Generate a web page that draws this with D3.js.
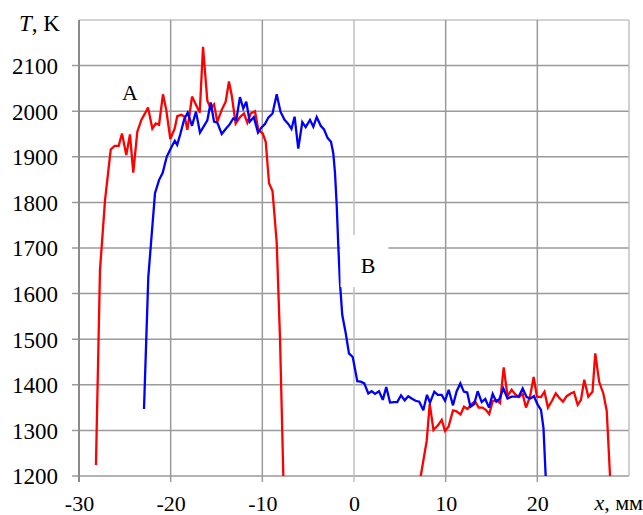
<!DOCTYPE html>
<html>
<head>
<meta charset="utf-8">
<script src="https://cdn.jsdelivr.net/npm/d3@7/dist/d3.min.js"></script>
<style>
  html, body { margin: 0; padding: 0; background: #fff; }
  svg { display: block; }
  text { font-family: "Liberation Serif", "Times New Roman", serif; fill: #000; }
</style>
</head>
<body>
<svg id="chart" width="643" height="515"></svg>
<script>
// Temperature profiles T(x) for two runs (red and blue), x in mm, T in K
const xTickValues = [-30, -20, -10, 0, 10, 20];
const tTickValues = [1200, 1300, 1400, 1500, 1600, 1700, 1800, 1900, 2000, 2100];

// Red run, left hot zone
const redLeftX = [-28.15, -27.71, -27.16, -26.54, -26.11, -25.67, -25.31, -24.84, -24.44, -24.08,
  -23.64, -23.20, -22.83, -22.47, -22.00, -21.63, -21.27, -20.84, -20.48, -20.04,
  -19.56, -19.28, -18.84, -18.47, -18.18, -17.67, -17.31, -16.83, -16.47, -16.00,
  -15.63, -15.27, -14.91, -14.43, -14.00, -13.64, -13.34, -12.91, -12.44, -12.00,
  -11.64, -11.27, -10.80, -10.44, -9.96, -9.63, -9.27, -8.89, -8.43, -8.07, -7.71];
const redLeftT = [1224, 1652, 1805, 1916, 1924, 1924, 1951, 1904, 1949, 1865,
  1955, 1981, 1994, 2008, 1962, 1973, 1970, 2037, 2003, 1939,
  1962, 1989, 1992, 1988, 1959, 2032, 2017, 1997, 2141, 2023,
  2006, 2015, 1977, 2003, 2021, 2065, 2035, 1973, 1987, 1995,
  1975, 1995, 2000, 1959, 1951, 1933, 1842, 1825, 1711, 1500, 1200];

// Red run, right zone
const redRightX = [7.28, 7.93, 8.26, 8.67, 9.16, 9.57, 9.93, 10.31, 10.80, 11.18,
  11.62, 12.00, 12.38, 12.80, 13.20, 13.60, 14.02, 14.37, 14.75, 15.13,
  15.57, 15.93, 16.33, 16.75, 17.20, 17.60, 18.00, 18.40, 18.76, 19.20,
  19.60, 19.96, 20.40, 20.78, 21.16, 21.60, 22.01, 22.36, 22.80, 23.20,
  23.64, 24.00, 24.40, 24.76, 25.12, 25.56, 26.02, 26.32, 26.75, 27.20, 27.57, 27.93];
const redRightT = [1200, 1277, 1358, 1301, 1311, 1323, 1299, 1308, 1344, 1342,
  1335, 1352, 1347, 1357, 1364, 1350, 1350, 1345, 1336, 1364,
  1366, 1360, 1438, 1375, 1389, 1379, 1373, 1380, 1350, 1374,
  1417, 1374, 1373, 1385, 1350, 1365, 1381, 1372, 1363, 1375,
  1381, 1384, 1356, 1367, 1411, 1374, 1385, 1469, 1406, 1381, 1343, 1200];

// Blue run
const blueX = [-22.91, -22.44, -21.71, -21.27, -20.87, -20.43, -20.02, -19.55, -19.29, -18.93,
  -18.51, -18.14, -17.67, -17.24, -16.80, -16.36, -16.00, -15.63, -15.27, -14.91,
  -14.43, -14.00, -13.57, -13.17, -12.84, -12.44, -12.08, -11.75, -11.38, -10.93,
  -10.47, -10.07, -9.71, -9.35, -8.89, -8.43, -8.02, -7.58, -7.17, -6.82,
  -6.48, -6.08, -5.64, -5.27, -4.80, -4.44, -4.07, -3.63, -3.27, -2.87,
  -2.51, -2.26, -2.07, -1.88, -1.71, -1.53, -1.28, -0.91, -0.55, -0.14,
  0.36, 0.73, 1.12, 1.56, 1.93, 2.29, 2.73, 3.14, 3.52, 3.93,
  4.36, 4.72, 5.13, 5.53, 5.92, 6.29, 6.71, 7.12, 7.56, 7.96,
  8.29, 8.76, 9.13, 9.57, 9.93, 10.33, 10.80, 11.20, 11.60, 11.98,
  12.35, 12.70, 13.11, 13.49, 13.93, 14.32, 14.73, 15.13, 15.52, 15.89,
  16.29, 16.75, 17.20, 17.56, 17.97, 18.40, 18.84, 19.23, 19.64, 20.02,
  20.40, 20.67, 20.91];
const blueT = [1347, 1636, 1820, 1849, 1865, 1900, 1917, 1935, 1926, 1951,
  1983, 1997, 1968, 1999, 1953, 1968, 1980, 2019, 1977, 1975,
  1950, 1961, 1971, 1984, 1981, 2031, 2006, 2021, 1977, 1987,
  1953, 1965, 1972, 1986, 1995, 2037, 1999, 1981, 1972, 1961,
  1988, 1918, 1976, 1965, 1981, 1966, 1987, 1968, 1960, 1941,
  1933, 1908, 1864, 1791, 1703, 1623, 1553, 1514, 1469, 1461,
  1408, 1407, 1403, 1381, 1386, 1380, 1386, 1367, 1395, 1361,
  1362, 1362, 1377, 1366, 1375, 1370, 1365, 1363, 1344, 1378,
  1361, 1385, 1378, 1378, 1365, 1389, 1355, 1386, 1403, 1385,
  1383, 1352, 1358, 1386, 1362, 1369, 1350, 1380, 1363, 1370,
  1392, 1370, 1374, 1374, 1374, 1392, 1373, 1370, 1375, 1357,
  1345, 1305, 1200];

const plot = { left: 79, right: 629, top: 20, bottom: 476 };

const svg = d3.select("#chart");

const x = d3.scaleLinear().domain([-30, 30]).range([plot.left, plot.right]);
const y = d3.scaleLinear().domain([1200, 2200]).range([plot.bottom, plot.top]);

// Grid
const grid = svg.append("g");
grid.selectAll("line.h")
  .data(tTickValues.concat([2200]))
  .join("line")
  .attr("x1", d => d === 2200 ? plot.left : plot.left - 7)
  .attr("x2", plot.right)
  .attr("y1", d => y(d)).attr("y2", d => y(d))
  .attr("stroke", d => d === 2200 ? "#c4c4c4" : "#9a9a9a")
  .attr("stroke-width", 1.5);

grid.selectAll("line.v")
  .data(xTickValues.concat([30]))
  .join("line")
  .attr("x1", d => x(d)).attr("x2", d => x(d))
  .attr("y1", plot.top)
  .attr("y2", d => d === 30 ? plot.bottom : plot.bottom + 6)
  .attr("stroke", d => (d === 0 || d === 30) ? "#c0c0c0" : (d === -30 ? "#8a8a8a" : "#9a9a9a"))
  .attr("stroke-width", d => d === -30 ? 2 : 1.5);

// Axis tick labels
const yAxis = d3.axisLeft(y).tickValues(tTickValues).tickSize(0).tickPadding(0)
  .tickFormat(d3.format("d"));
const gy = svg.append("g").attr("transform", `translate(${plot.left - 21},0)`).call(yAxis);
gy.select(".domain").remove();
gy.selectAll("text").attr("font-size", 23).attr("font-family", "Liberation Serif").attr("dy", "0.34em");

const xAxis = d3.axisBottom(x).tickValues(xTickValues).tickSize(0).tickPadding(0)
  .tickFormat(d => d < 0 ? "-" + Math.abs(d) : String(d));
const gx = svg.append("g").attr("transform", `translate(0,${plot.bottom + 20})`).call(xAxis);
gx.select(".domain").remove();
gx.selectAll("text").attr("font-size", 22).attr("font-family", "Liberation Serif").attr("dy", "0.66em");

// Axis titles
const tTitle = svg.append("text").attr("x", 19).attr("y", 31).attr("font-size", 23);
tTitle.append("tspan").attr("font-style", "italic").text("T");
tTitle.append("tspan").text(", K");

const xTitle = svg.append("text").attr("x", 643).attr("y", 510).attr("font-size", 22)
  .attr("text-anchor", "end");
xTitle.append("tspan").attr("font-style", "italic").text("x");
xTitle.append("tspan").text(", мм");

// Data lines
const line = d3.line().x(d => x(d[0])).y(d => y(d[1]));
const zip = (a, b) => a.map((v, i) => [v, b[i]]);

const series = [
  { pts: zip(redLeftX, redLeftT), color: "#ff0000" },
  { pts: zip(redRightX, redRightT), color: "#ff0000" },
  { pts: zip(blueX, blueT), color: "#0000ff" }
];
svg.append("g").selectAll("path")
  .data(series)
  .join("path")
  .attr("d", d => line(d.pts))
  .attr("fill", "none")
  .attr("stroke", d => d.color)
  .attr("stroke-width", 2.3)
  .attr("stroke-linejoin", "miter")
  .attr("stroke-miterlimit", 3);

// Zone labels
svg.append("text").attr("x", 130).attr("y", 100).attr("font-size", 22)
  .attr("text-anchor", "middle").text("A");

svg.append("rect").attr("x", 340.5).attr("y", 235).attr("width", 48).attr("height", 52)
  .attr("fill", "#fff");
svg.append("text").attr("x", 368).attr("y", 273).attr("font-size", 22)
  .attr("text-anchor", "middle").text("B");
</script>
</body>
</html>
